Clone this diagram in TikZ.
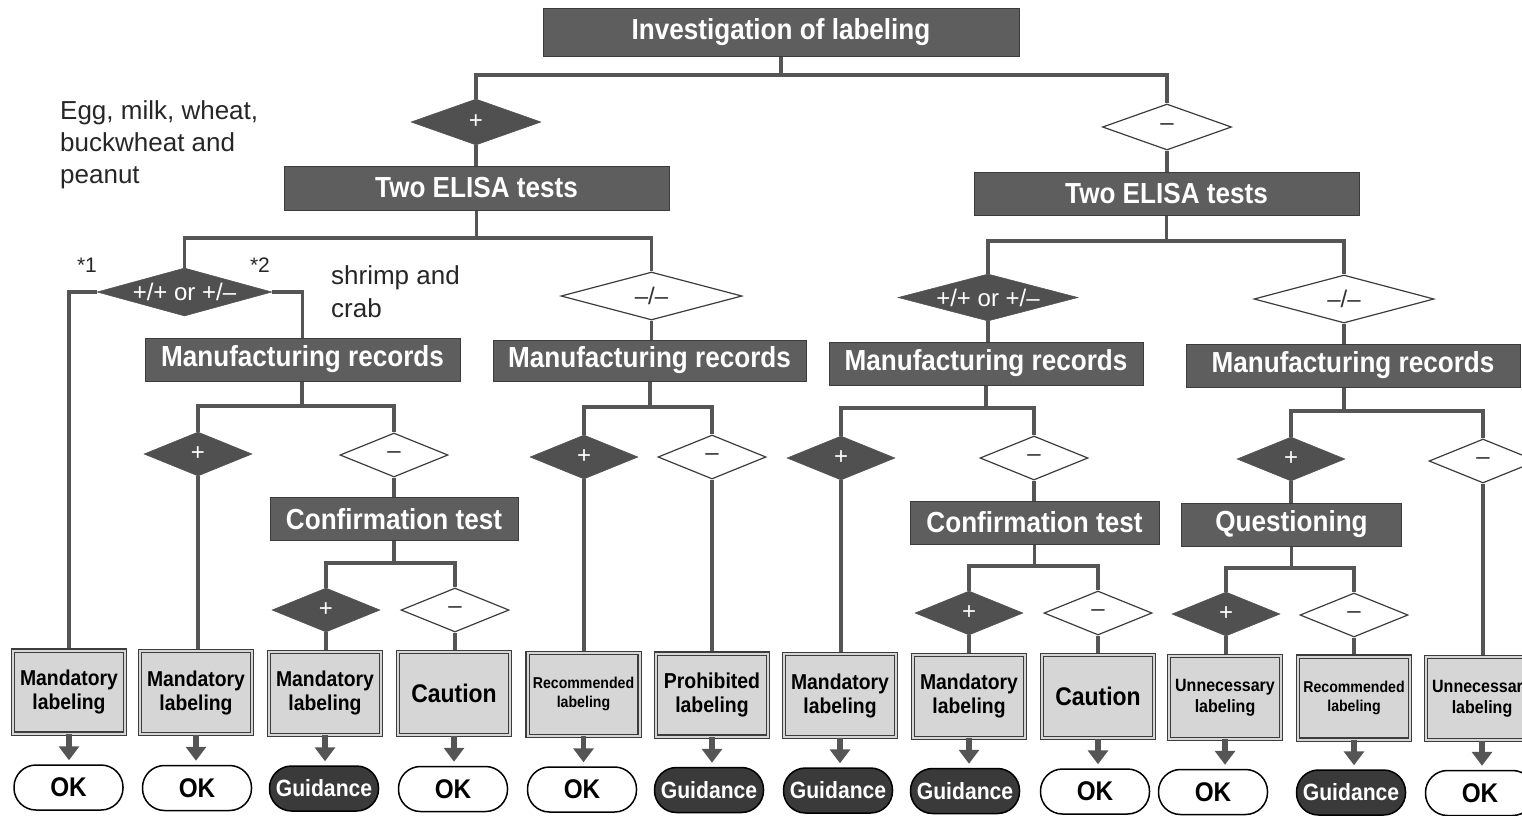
\documentclass[tikz,border=0pt]{standalone}
\usepackage{fontspec}
\setmainfont{Liberation Sans}
\newfontfamily\cond[FakeStretch=0.9]{Liberation Sans}
\usetikzlibrary{shapes.geometric,arrows.meta,backgrounds}
\newcommand\myfs[2]{\fontsize{#1}{#2}\selectfont}
\definecolor{hdfill}{HTML}{5E5E5E}
\definecolor{hddraw}{HTML}{3C3C3C}
\definecolor{wirec}{HTML}{555555}
\definecolor{dfill}{HTML}{505050}
\definecolor{boxfill}{HTML}{D6D6D6}
\definecolor{gdfill}{HTML}{3A3A3A}
\tikzset{
 hdr/.style={rectangle, draw=hddraw, line width=1pt, fill=hdfill, text=white, font=\cond\bfseries\myfs{29}{32}, inner sep=0},
 wire/.style={draw=wirec, line width=3.5pt},
 ddark/.style={diamond, aspect=3.7, fill=dfill, draw=dfill, line width=0.5pt, inner sep=0, text=white, font=\myfs{24}{26}},
 dwhite/.style={diamond, aspect=3.7, fill=white, draw=hddraw, line width=1.2pt, inner sep=0, text=black!80, font=\myfs{24}{26}},
 sdia/.style={minimum width=108pt, minimum height=44pt},
 res/.style={rectangle, draw=hddraw, line width=1.1pt, double=boxfill, double distance=2pt, fill=boxfill, minimum width=112pt, minimum height=83pt, inner sep=0, align=center},
 mand/.style={res, font=\cond\bfseries\myfs{21.5}{24}},
 caut/.style={res, font=\cond\bfseries\myfs{25.5}{28}},
 reco/.style={res, font=\cond\bfseries\myfs{15.7}{19}},
 prohib/.style={res, font=\cond\bfseries\myfs{21.6}{24}},
 unnec/.style={res, font=\cond\bfseries\myfs{17.8}{21}},
 okp/.style={rectangle, rounded corners=22pt, draw=black, line width=1.5pt, fill=white, minimum width=109pt, minimum height=45pt, inner sep=0, font=\cond\bfseries\myfs{27}{30}},
 gdp/.style={okp, fill=gdfill, text=white, font=\cond\bfseries\myfs{23.5}{26}},
 arr/.style={draw=wirec, line width=5.5pt, -{Triangle[width=20pt,length=14pt]}, shorten >=4pt},
 note/.style={inner sep=0, align=left, font=\myfs{26}{32}, text=black!85},
}
\begin{document}
\begin{tikzpicture}[x=1pt,y=-1pt]
\useasboundingbox (0,0) rectangle (1522,815);
\clip (0,0) rectangle (1522,815);

% ---- upper structure
\node[hdr, minimum width=476pt, minimum height=48pt] (inv) at (781,32) {Investigation of labeling};
\node[ddark, minimum width=130pt, minimum height=46pt] (dP) at (476,122) {+};
\node[dwhite, minimum width=129pt, minimum height=46pt] (dM) at (1167,127) {–};
\node[hdr, minimum width=385pt, minimum height=44pt] (eL) at (476.5,188) {Two ELISA tests};
\node[hdr, minimum width=385pt, minimum height=43pt] (eR) at (1166.5,193.5) {Two ELISA tests};

\node[ddark, minimum width=175pt, minimum height=48pt] (dLpp) at (184.5,292) {+/+ or +/–};
\node[dwhite, minimum width=181pt, minimum height=48pt] (dLmm) at (651.5,296) {–/–};
\node[ddark, minimum width=180pt, minimum height=47pt] (dRpp) at (988,297.5) {+/+ or +/–};
\node[dwhite, minimum width=180pt, minimum height=48pt] (dRmm) at (1344,299) {–/–};

\node[hdr, minimum width=315pt, minimum height=43pt] (m1) at (302.5,359.5) {Manufacturing records};
\node[hdr, minimum width=313pt, minimum height=41pt] (m2) at (649.5,360.5) {Manufacturing records};
\node[hdr, minimum width=314pt, minimum height=43pt] (m3) at (986,363.5) {Manufacturing records};
\node[hdr, minimum width=334pt, minimum height=43pt] (m4) at (1353,365.5) {Manufacturing records};

\node[ddark, sdia] (d1p) at (198,454) {+};
\node[dwhite, sdia] (d1m) at (394,455) {–};
\node[ddark, sdia] (d2p) at (584,457) {+};
\node[dwhite, sdia] (d2m) at (712,457) {–};
\node[ddark, sdia] (d3p) at (841,458) {+};
\node[dwhite, sdia] (d3m) at (1034,458) {–};
\node[ddark, sdia] (d4p) at (1291,459) {+};
\node[dwhite, sdia] (d4m) at (1483,461) {–};

\node[hdr, minimum width=248pt, minimum height=43pt] (c1) at (394,519) {Confirmation test};
\node[hdr, minimum width=249pt, minimum height=43pt] (c2) at (1034.5,522.5) {Confirmation test};
\node[hdr, minimum width=220pt, minimum height=43pt] (q) at (1291.5,524.5) {Questioning};

\node[ddark, sdia] (e1p) at (326,610) {+};
\node[dwhite, sdia] (e1m) at (455,610) {–};
\node[ddark, sdia] (e2p) at (969,613) {+};
\node[dwhite, sdia] (e2m) at (1098,613) {–};
\node[ddark, sdia] (e3p) at (1226,614) {+};
\node[dwhite, sdia] (e3m) at (1354,615) {–};

% ---- result boxes
\node[mand] (r1) at (69,692) {Mandatory\\labeling};
\node[mand] (r2) at (196,692.6) {Mandatory\\labeling};
\node[mand] (r3) at (325,693.2) {Mandatory\\labeling};
\node[caut] (r4) at (454,693.8) {Caution};
\node[reco] (r5) at (583.5,694.4) {Recommended\\labeling};
\node[prohib] (r6) at (712,695) {Prohibited\\labeling};
\node[mand] (r7) at (840,695.6) {Mandatory\\labeling};
\node[mand] (r8) at (969,696.2) {Mandatory\\labeling};
\node[caut] (r9) at (1098,696.8) {Caution};
\node[unnec] (r10) at (1225,697.4) {Unnecessary\\labeling};
\node[reco] (r11) at (1354,698) {Recommended\\labeling};
\node[unnec] (r12) at (1482,698.6) {Unnecessary\\labeling};

% ---- outcome pills
\node[okp] (p1) at (68.5,787.5) {OK};
\node[okp] (p2) at (197,788) {OK};
\node[gdp] (p3) at (324,788.5) {Guidance};
\node[okp] (p4) at (453,789) {OK};
\node[okp] (p5) at (582,789.5) {OK};
\node[gdp] (p6) at (709,790) {Guidance};
\node[gdp] (p7) at (838,790.5) {Guidance};
\node[gdp] (p8) at (965,791) {Guidance};
\node[okp] (p9) at (1095,791.5) {OK};
\node[okp] (p10) at (1213,792) {OK};
\node[gdp] (p11) at (1351,792.5) {Guidance};
\node[okp] (p12) at (1480,793) {OK};

% ---- annotations
\node[note, anchor=north west] (egg) at (60,100) {Egg, milk, wheat,\\buckwheat and\\peanut};
\node[note, anchor=north west, font=\myfs{26}{33}] (shr) at (331,265) {shrimp and\\crab};
\node[inner sep=0, font=\myfs{21}{24}, text=black!85] (s1) at (87,265) {*1};
\node[inner sep=0, font=\myfs{21}{24}, text=black!85] (s2) at (260,265) {*2};

% ---- connectors
\begin{scope}[on background layer]
\coordinate (j0) at (781,75);
\draw[wire] (inv.south) -- (j0);
\draw[wire] (j0) -| (dP.north);
\draw[wire] (j0) -| (dM.north);
\draw[wire] (dP.south) -- (dP.south |- eL.north);
\draw[wire] (dM.south) -- (dM.south |- eR.north);

\coordinate (jL) at (476.5,238);
\draw[wire] (eL.south) -- (jL);
\draw[wire] (jL) -| (dLpp.north);
\draw[wire] (jL) -| (dLmm.north);
\coordinate (jR) at (1166.5,241);
\draw[wire] (eR.south) -- (jR);
\draw[wire] (jR) -| (dRpp.north);
\draw[wire] (jR) -| (dRmm.north);

\draw[wire] (dLpp.west) -| (r1.north);
\draw[wire] (dLpp.east) -| (m1.north);
\draw[wire] (dLmm.south) -- (dLmm.south |- m2.north);
\draw[wire] (dRpp.south) -- (dRpp.south |- m3.north);
\draw[wire] (dRmm.south) -- (dRmm.south |- m4.north);

\coordinate (k1) at (302,406);
\draw[wire] (m1.south -| k1) -- (k1);
\draw[wire] (k1) -| (d1p.north);
\draw[wire] (k1) -| (d1m.north);
\draw[wire] (d1p.south) -- (d1p.south |- r2.north);
\draw[wire] (d1m.south) -- (d1m.south |- c1.north);
\coordinate (kc1) at (394,563);
\draw[wire] (c1.south) -- (kc1);
\draw[wire] (kc1) -| (e1p.north);
\draw[wire] (kc1) -| (e1m.north);
\draw[wire] (e1p.south) -- (e1p.south |- r3.north);
\draw[wire] (e1m.south) -- (e1m.south |- r4.north);

\coordinate (k2) at (650,407);
\draw[wire] (m2.south -| k2) -- (k2);
\draw[wire] (k2) -| (d2p.north);
\draw[wire] (k2) -| (d2m.north);
\draw[wire] (d2p.south) -- (d2p.south |- r5.north);
\draw[wire] (d2m.south) -- (d2m.south |- r6.north);

\coordinate (k3) at (986,408);
\draw[wire] (m3.south -| k3) -- (k3);
\draw[wire] (k3) -| (d3p.north);
\draw[wire] (k3) -| (d3m.north);
\draw[wire] (d3p.south) -- (d3p.south |- r7.north);
\draw[wire] (d3m.south) -- (d3m.south |- c2.north);
\coordinate (kc2) at (1034.5,566);
\draw[wire] (c2.south) -- (kc2);
\draw[wire] (kc2) -| (e2p.north);
\draw[wire] (kc2) -| (e2m.north);
\draw[wire] (e2p.south) -- (e2p.south |- r8.north);
\draw[wire] (e2m.south) -- (e2m.south |- r9.north);

\coordinate (k4) at (1344,411);
\draw[wire] (m4.south -| k4) -- (k4);
\draw[wire] (k4) -| (d4p.north);
\draw[wire] (k4) -| (d4m.north);
\draw[wire] (d4p.south) -- (d4p.south |- q.north);
\draw[wire] (d4m.south) -- (d4m.south |- r12.north);
\coordinate (kq) at (1291.5,568);
\draw[wire] (q.south) -- (kq);
\draw[wire] (kq) -| (e3p.north);
\draw[wire] (kq) -| (e3m.north);
\draw[wire] (e3p.south) -- (e3p.south |- r10.north);
\draw[wire] (e3m.south) -- (e3m.south |- r11.north);
\end{scope}

% ---- arrows to outcomes
\foreach \i in {1,...,12} {
  \draw[arr] (r\i.south) -- (r\i.south |- p\i.north);
}
\end{tikzpicture}
\end{document}
